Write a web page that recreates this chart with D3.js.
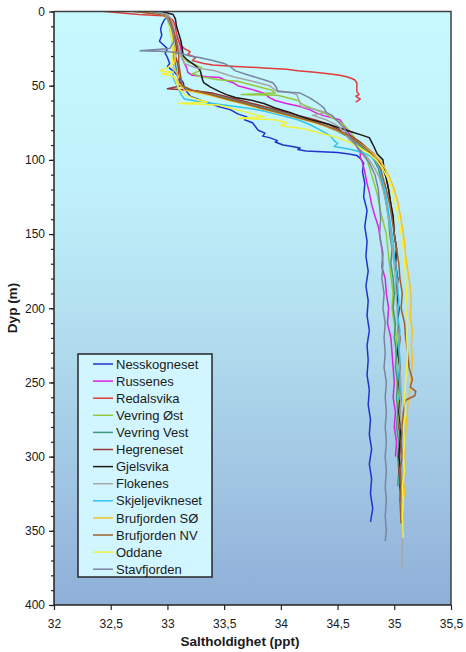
<!DOCTYPE html>
<html><head><meta charset="utf-8">
<script src="https://cdn.jsdelivr.net/npm/d3@7"></script>
<style>body{margin:0;background:#fff;} svg{display:block;font-family:"Liberation Sans",Arial,sans-serif;}</style>
</head><body><svg id="c" width="466" height="652"></svg>
<script>
// [depth (m), salinity (ppt)]
const nesskogneset = [[0,32.85],[1,32.98],[3,33.0],[6,32.97],[9,32.95],[12,32.94],[16,32.95],[20,32.93],[25,33.0],[28,32.98],[31,33.0],[35,33.02],[37,33.0],[40,33.05],[44,33.1],[48,33.14],[52,33.15],[57,33.2],[60,33.3],[62,33.38],[64,33.45],[66,33.55],[69,33.62],[71,33.7],[73,33.68],[75,33.75],[78,33.78],[80,33.8],[82,33.86],[84,33.84],[85,33.9],[87,33.97],[88,33.95],[90,34.02],[91,34.1],[92,34.17],[93,34.15],[94,34.22],[95,34.5],[96,34.6],[97,34.67],[99,34.7],[102,34.73],[108,34.72],[116,34.74],[125,34.73],[134,34.76],[145,34.74],[155,34.76],[165,34.75],[175,34.77],[185,34.75],[195,34.77],[205,34.76],[215,34.78],[225,34.76],[235,34.77],[245,34.76],[255,34.78],[265,34.77],[275,34.79],[285,34.78],[295,34.8],[305,34.78],[315,34.8],[325,34.79],[335,34.81],[344,34.79]];
const russenes = [[0,32.9],[2,33.0],[5,33.03],[10,33.05],[15,33.07],[20,33.1],[25,33.12],[30,33.12],[35,33.15],[38,33.17],[41,33.18],[43,33.22],[44,33.35],[44.5,33.46],[46,33.5],[48,33.58],[50,33.62],[52,33.72],[55,33.85],[58,33.9],[60,33.95],[62,34.05],[64,34.17],[66,34.25],[68,34.3],[70,34.37],[73,34.52],[76,34.55],[80,34.58],[84,34.62],[87,34.64],[91,34.67],[95,34.7],[98,34.7],[102,34.72],[108,34.74],[116,34.76],[122,34.78],[130,34.8],[138,34.83],[145,34.86],[155,34.88],[163,34.9],[172,34.89],[180,34.92],[190,34.93],[200,34.95],[210,34.94],[220,34.97],[230,34.98],[240,34.99],[250,35.0],[260,34.99],[270,35.01],[280,35.0],[290,35.02],[300,35.01]];
const redalsvika = [[0,32.45],[1,32.6],[2,32.75],[3,33.0],[6,33.05],[10,33.07],[15,33.08],[20,33.1],[23,33.12],[25,33.15],[27,33.2],[29,33.18],[31,33.25],[33,33.22],[35,33.32],[36,33.4],[37,33.6],[38,33.85],[39,34.05],[40,34.15],[41,34.3],[42,34.42],[43,34.52],[44,34.58],[45,34.62],[46,34.65],[48,34.67],[51,34.67],[54,34.67],[56,34.69],[57,34.66],[58,34.68],[59,34.7],[61,34.66]];
const vevringOst = [[0,32.85],[2,32.98],[5,33.02],[10,33.05],[15,33.06],[20,33.08],[25,33.1],[30,33.12],[34,33.18],[36,33.25],[38,33.3],[40,33.28],[42,33.22],[44,33.3],[46,33.45],[47,33.62],[49,33.72],[51,33.82],[53,33.92],[55,33.95],[56,33.65],[56.5,33.97],[58,34.05],[60,34.15],[63,34.2],[66,34.3],[69,34.4],[72,34.46],[76,34.55],[80,34.6],[84,34.64],[87,34.67],[92,34.7],[100,34.76],[110,34.8],[123,34.85],[135,34.88],[150,34.93],[165,34.95],[178,34.97],[190,34.99],[200,34.98],[210,35.0],[220,35.02],[230,35.01],[240,35.03],[250,35.02],[260,35.04],[270,35.03],[280,35.05],[290,35.04],[300,35.05]];
const vevringVest = [[0,32.8],[2,32.97],[5,33.0],[10,33.02],[15,33.03],[20,33.05],[25,33.06],[30,33.05],[35,33.07],[40,33.08],[45,33.1],[50,33.12],[53,33.2],[55,33.35],[58,33.5],[61,33.65],[64,33.8],[67,33.95],[70,34.1],[73,34.25],[76,34.35],[80,34.48],[84,34.58],[88,34.66],[92,34.72],[96,34.78],[100,34.82],[106,34.86],[112,34.88],[120,34.91],[130,34.93],[140,34.95],[150,34.96],[160,34.98],[170,34.97],[180,34.99],[190,35.0],[200,34.99],[210,35.01],[220,35.0],[230,35.02],[240,35.01],[250,35.03],[260,35.02],[270,35.03],[280,35.02],[290,35.04],[300,35.03],[310,35.04],[320,35.03]];
const hegreneset = [[0,32.75],[2,32.95],[5,33.02],[10,33.04],[15,33.06],[20,33.07],[25,33.08],[30,33.07],[35,33.09],[40,33.1],[45,33.1],[50,33.12],[52,33.0],[53,33.2],[55,33.4],[58,33.55],[61,33.7],[64,33.85],[67,34.0],[70,34.15],[73,34.3],[76,34.42],[80,34.52],[84,34.62],[88,34.7],[92,34.76],[96,34.82],[100,34.86],[106,34.9],[112,34.93],[120,34.95],[130,34.97],[140,34.99],[150,35.0],[160,35.02],[170,35.01],[180,35.03],[190,35.02],[200,35.04],[210,35.03],[220,35.05],[230,35.04],[240,35.05],[250,35.04],[260,35.06],[270,35.05],[280,35.04],[290,35.06],[300,35.05],[310,35.04],[320,35.06],[330,35.05]];
const gjelsvika = [[0,32.95],[2,33.05],[5,33.07],[10,33.08],[15,33.1],[20,33.12],[25,33.13],[30,33.14],[33,33.18],[35,33.22],[38,33.27],[40,33.29],[43,33.3],[46,33.31],[48,33.32],[51,33.38],[54,33.46],[56,33.52],[58,33.6],[60,33.75],[62,33.85],[65,33.95],[68,34.08],[70,34.15],[73,34.26],[76,34.42],[78,34.5],[81,34.62],[83,34.7],[85,34.78],[88,34.8],[91,34.82],[96,34.85],[100,34.9],[106,34.91],[113,34.93],[120,34.95],[130,34.97],[138,34.99],[150,35.0],[160,35.02],[170,35.01],[180,35.03],[190,35.02],[200,35.04],[210,35.03],[220,35.04],[230,35.03],[240,35.05],[250,35.04],[260,35.05],[270,35.04],[280,35.06],[290,35.05],[300,35.04],[310,35.06],[320,35.05],[330,35.06]];
const flokenes = [[0,32.9],[2,33.0],[5,33.03],[10,33.05],[15,33.07],[20,33.08],[25,33.1],[30,33.12],[35,33.15],[38,33.25],[40,33.42],[42,33.5],[44,33.58],[47,33.75],[50,33.9],[53,33.95],[55,34.1],[56,34.14],[60,34.16],[64,34.18],[66,34.3],[68,34.4],[70,34.28],[73,34.4],[76,34.48],[78,34.52],[82,34.56],[86,34.6],[90,34.66],[95,34.72],[100,34.78],[106,34.83],[112,34.87],[120,34.9],[130,34.93],[140,34.95],[150,34.97],[165,34.99],[180,35.01],[195,35.02],[210,35.03],[225,35.04],[240,35.05],[255,35.06],[270,35.05],[285,35.07],[300,35.06],[315,35.07],[330,35.06],[345,35.08],[360,35.07],[376,35.07]];
const skjeljevikneset = [[0,32.9],[2,32.98],[5,33.0],[10,33.02],[15,33.03],[20,33.04],[25,33.05],[30,33.05],[35,33.06],[40,33.05],[44,33.05],[48,33.07],[52,33.1],[56,33.12],[59,33.15],[61,33.3],[63,33.5],[65,33.7],[67,33.85],[70,34.0],[73,34.15],[76,34.25],[80,34.35],[84,34.44],[87,34.47],[89,34.5],[91,34.47],[93,34.62],[95,34.72],[98,34.8],[102,34.85],[108,34.88],[115,34.9],[125,34.93],[135,34.95],[145,34.97],[155,34.99],[165,35.0],[175,35.02],[185,35.03],[195,35.04],[205,35.03],[215,35.05],[225,35.04],[235,35.05],[245,35.04],[255,35.05],[262,35.04]];
const brufjordenSO = [[0,32.8],[2,32.95],[5,33.0],[10,33.02],[15,33.04],[20,33.05],[25,33.06],[30,33.07],[35,33.06],[38,33.05],[41,33.08],[44,33.1],[47,33.08],[50,33.12],[53,33.15],[55,33.28],[57,33.4],[60,33.55],[63,33.7],[66,33.85],[69,34.0],[72,34.15],[75,34.3],[78,34.42],[81,34.52],[85,34.62],[89,34.7],[93,34.77],[97,34.83],[101,34.88],[106,34.92],[112,34.96],[120,35.0],[128,35.03],[136,35.05],[145,35.07],[155,35.09],[165,35.1],[175,35.12],[185,35.14],[195,35.15],[205,35.14],[215,35.16],[225,35.15],[235,35.16],[245,35.15],[255,35.14],[265,35.12],[275,35.11],[285,35.1],[295,35.09],[305,35.1],[315,35.08],[325,35.09],[335,35.07],[345,35.08]];
const brufjordenNV = [[0,32.7],[2,32.95],[5,33.02],[10,33.04],[15,33.06],[20,33.08],[25,33.09],[30,33.1],[35,33.1],[40,33.11],[45,33.12],[50,33.13],[53,33.22],[56,33.38],[59,33.52],[62,33.68],[65,33.82],[68,33.97],[71,34.12],[74,34.27],[77,34.4],[80,34.5],[84,34.6],[88,34.68],[92,34.74],[96,34.8],[100,34.84],[106,34.88],[112,34.9],[120,34.93],[130,34.96],[140,34.98],[150,35.0],[160,35.02],[170,35.04],[180,35.05],[190,35.07],[200,35.06],[210,35.09],[220,35.1],[230,35.12],[240,35.13],[248,35.16],[253,35.14],[256,35.19],[259,35.18],[262,35.1],[270,35.08],[280,35.07],[290,35.06],[300,35.07],[310,35.05],[320,35.06],[330,35.05],[345,35.06]];
const oddane = [[0,32.85],[2,32.98],[5,33.0],[10,33.02],[15,33.03],[20,33.04],[25,33.05],[30,33.04],[35,33.05],[38,33.0],[40,32.93],[41,33.05],[42,32.95],[44,33.06],[48,33.08],[52,33.1],[56,33.15],[59,33.25],[61,33.35],[62,33.1],[63,33.45],[65,33.55],[68,33.7],[71,33.85],[72,33.62],[73,33.95],[75,34.05],[77,34.0],[79,34.2],[82,34.35],[85,34.5],[88,34.6],[92,34.7],[96,34.78],[100,34.84],[106,34.9],[112,34.94],[120,34.98],[130,35.01],[140,35.04],[150,35.06],[160,35.08],[170,35.09],[180,35.1],[190,35.11],[200,35.1],[210,35.12],[220,35.11],[230,35.12],[240,35.11],[250,35.1],[260,35.09],[270,35.1],[280,35.08],[290,35.09],[300,35.08],[310,35.09],[320,35.07],[330,35.08],[340,35.07],[355,35.08]];
const stavfjorden = [[0,32.85],[2,32.98],[5,33.0],[10,33.03],[15,33.05],[20,33.06],[25,33.02],[26.5,32.76],[27,33.0],[28,33.1],[30,33.2],[31,33.28],[33,33.4],[35,33.5],[37,33.55],[40,33.6],[43,33.72],[46,33.85],[48,33.93],[51,33.96],[54,33.97],[55,34.17],[58,34.25],[62,34.33],[65,34.38],[68,34.4],[70,34.45],[74,34.5],[78,34.55],[84,34.6],[90,34.66],[96,34.72],[102,34.78],[110,34.83],[120,34.86],[130,34.87],[140,34.88],[150,34.87],[160,34.89],[170,34.9],[180,34.89],[190,34.91],[200,34.9],[210,34.92],[220,34.91],[230,34.92],[240,34.91],[250,34.93],[260,34.92],[270,34.93],[280,34.92],[290,34.93],[300,34.92],[310,34.93],[320,34.92],[330,34.93],[340,34.92],[350,34.93],[357,34.92]];

const seriesNames = ["Nesskogneset","Russenes","Redalsvika","Vevring Øst","Vevring Vest","Hegreneset","Gjelsvika","Flokenes","Skjeljevikneset","Brufjorden SØ","Brufjorden NV","Oddane","Stavfjorden"];
const seriesData = [nesskogneset,russenes,redalsvika,vevringOst,vevringVest,hegreneset,gjelsvika,flokenes,skjeljevikneset,brufjordenSO,brufjordenNV,oddane,stavfjorden];
const seriesColors = ["#2233cc","#e020e0","#e03c3c","#92c83c","#3c9a7c","#983430","#1a1a1a","#a6a6a6","#30c4f0","#f5c02a","#9c6030","#f2f23a","#7a84a0"];
const xTickValues = [32,32.5,33,33.5,34,34.5,35,35.5];
const xTickLabels = ["32","32,5","33","33,5","34","34,5","35","35,5"];
const yTickValues = [0,50,100,150,200,250,300,350,400];
const yMinorTickValues = [0,10,20,30,40,50,60,70,80,90,100,110,120,130,140,150,160,170,180,190,200,210,220,230,240,250,260,270,280,290,300,310,320,330,340,350,360,370,380,390,400];

const svg = d3.select("#c");
const x = d3.scaleLinear().domain([32,35.5]).range([54,451]);
const y = d3.scaleLinear().domain([0,400]).range([11.5,605]);

const defs = svg.append("defs");
const g = defs.append("linearGradient").attr("id","bg").attr("x1",0).attr("y1",0).attr("x2",0).attr("y2",1);
[[0,"#c6faff"],[0.3,"#c0f0fa"],[0.55,"#b1dcee"],[0.8,"#a0c4e3"],[1,"#8eafd8"]].forEach(s=>g.append("stop").attr("offset",s[0]).attr("stop-color",s[1]));
defs.append("clipPath").attr("id","clip").append("rect").attr("x",54).attr("y",11.5).attr("width",397).attr("height",593.5);

svg.append("rect").attr("x",54).attr("y",11.5).attr("width",397).attr("height",593.5).attr("fill","url(#bg)");

const line = d3.line().x(d=>x(d[1])).y(d=>y(d[0]));
const lines = svg.append("g").attr("clip-path","url(#clip)");
seriesData.forEach((s,i)=>{
  lines.append("path").attr("d",line(s)).attr("fill","none").attr("stroke",seriesColors[i]).attr("stroke-width",1.5).attr("stroke-linejoin","round");
});

// frame top/right
svg.append("path").attr("d",`M54,11.5H451V605`).attr("fill","none").attr("stroke","#404040").attr("stroke-width",1.5);

// axes
const ya = svg.append("g").attr("transform","translate(54,0)").call(d3.axisLeft(y).tickValues(yTickValues).tickSize(5).tickPadding(4).tickFormat(d=>String(d)));
const ym = svg.append("g").attr("transform","translate(54,0)").call(d3.axisLeft(y).tickValues(yMinorTickValues).tickSize(3).tickFormat(""));
ym.select(".domain").remove();
const xa = svg.append("g").attr("transform","translate(0,605)").call(d3.axisBottom(x).tickValues(xTickValues).tickSize(5).tickPadding(9).tickFormat((d,i)=>xTickLabels[i]));
[ya,ym,xa].forEach(a=>{a.select(".domain").attr("stroke","#222").attr("stroke-width",1.5);a.selectAll(".tick line").attr("stroke","#222").attr("stroke-width",1.2);a.selectAll("text").attr("font-size",12).attr("fill","#1a1a1a").attr("font-family","Liberation Sans, Arial, sans-serif");});
ya.select(".domain").attr("d","M0,11.5V605");
xa.select(".domain").attr("d","M54,0H451");

// titles
svg.append("text").attr("x",240).attr("y",646).attr("text-anchor","middle").attr("font-size",13.5).attr("font-weight","bold").attr("fill","#1a1a1a").text("Saltholdighet (ppt)");
svg.append("text").attr("transform","translate(17,308) rotate(-90)").attr("text-anchor","middle").attr("font-size",13.5).attr("font-weight","bold").attr("fill","#1a1a1a").text("Dyp (m)");

// legend
const lg = svg.append("g");
lg.append("rect").attr("x",78).attr("y",354).attr("width",134).attr("height",223).attr("fill","#d2f6ff").attr("stroke","#262626").attr("stroke-width",1.5);
seriesNames.forEach((n,i)=>{
  const cy = 364 + i*17.1;
  lg.append("line").attr("x1",93).attr("x2",113).attr("y1",cy).attr("y2",cy).attr("stroke",seriesColors[i]).attr("stroke-width",1.5);
  lg.append("text").attr("x",116).attr("y",cy+4.6).attr("font-size",13).attr("fill","#1a1a1a").text(n);
});
</script></body></html>
